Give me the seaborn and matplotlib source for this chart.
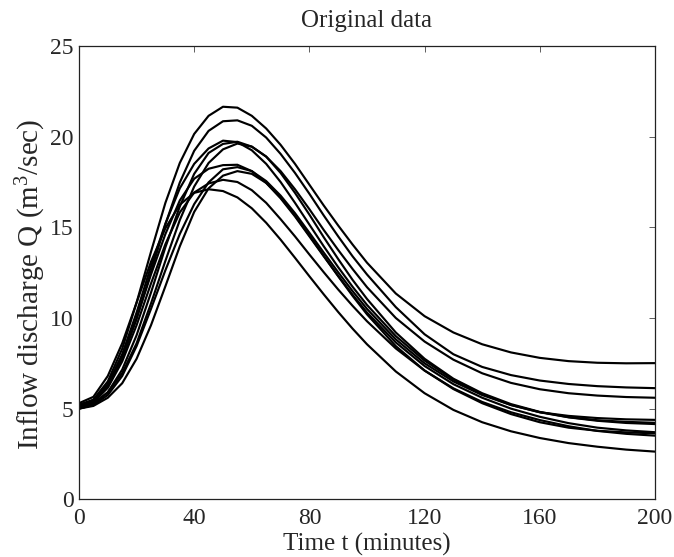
import pandas as pd
import matplotlib
matplotlib.use("Agg")
import matplotlib.pyplot as plt
import seaborn as sns

time_min = [0, 5, 10, 15, 20, 25, 30, 35, 40, 45, 50, 55, 60, 65, 70, 75, 80, 85, 90, 95, 100,
            110, 120, 130, 140, 150, 160, 170, 180, 190, 200]

run_a = [5.2, 5.5, 6.5, 8.3, 10.85, 13.65, 16.35, 18.55, 20.15, 21.15, 21.65,
         21.6, 21.15, 20.45, 19.55, 18.5, 17.35, 16.2, 15.1, 14.05, 13.05,
         11.35, 10.1, 9.2, 8.55, 8.1, 7.8, 7.62, 7.53, 7.5, 7.51]
run_b = [5.1, 5.35, 6.2, 7.75, 9.95, 12.55, 15.17, 17.47, 19.22, 20.32, 20.85,
         20.9, 20.6, 19.95, 19.05, 18.0, 16.85, 15.65, 14.5, 13.4, 12.4,
         10.6, 9.1, 8.0, 7.3, 6.85, 6.55, 6.36, 6.24, 6.17, 6.13]
run_c = [5.0, 5.22, 5.9, 7.15, 9.05, 11.4, 13.9, 16.15, 17.95, 19.1, 19.6,
         19.72, 19.45, 18.9, 18.1, 17.1, 16.0, 14.85, 13.75, 12.7, 11.7,
         10.0, 8.7, 7.7, 6.95, 6.42, 6.07, 5.85, 5.72, 5.64, 5.6]
run_d = [5.2, 5.45, 6.35, 8.0, 10.3, 12.85, 15.2, 17.15, 18.5, 19.35, 19.78,
         19.7, 19.25, 18.5, 17.5, 16.35, 15.15, 13.95, 12.8, 11.72, 10.72,
         9.0, 7.65, 6.6, 5.8, 5.2, 4.8, 4.6, 4.48, 4.41, 4.38]
run_e = [5.1, 5.3, 5.9, 6.95, 8.6, 10.8, 13.15, 15.4, 17.25, 18.55, 19.3,
         19.62, 19.45, 18.9, 18.0, 16.9, 15.7, 14.45, 13.25, 12.1, 11.05,
         9.2, 7.75, 6.65, 5.85, 5.25, 4.82, 4.53, 4.36, 4.27, 4.22]
run_f = [5.2, 5.45, 6.3, 7.85, 10.0, 12.4, 14.63, 16.48, 17.68, 18.23, 18.43,
         18.45, 18.1, 17.45, 16.6, 15.6, 14.5, 13.4, 12.32, 11.28, 10.3,
         8.65, 7.35, 6.35, 5.6, 5.0, 4.55, 4.2, 3.95, 3.8, 3.7]
run_g = [5.0, 5.2, 5.75, 6.8, 8.45, 10.5, 12.63, 14.63, 16.28, 17.48, 18.2,
         18.32, 18.1, 17.55, 16.75, 15.78, 14.7, 13.6, 12.52, 11.48, 10.5,
         8.82, 7.5, 6.5, 5.75, 5.2, 4.8, 4.52, 4.33, 4.21, 4.15]
run_h = [5.0, 5.15, 5.6, 6.4, 7.75, 9.6, 11.75, 13.95, 15.85, 17.15, 17.85,
         18.1, 17.95, 17.45, 16.65, 15.65, 14.55, 13.42, 12.3, 11.22, 10.2,
         8.45, 7.1, 6.08, 5.3, 4.7, 4.25, 3.95, 3.78, 3.69, 3.64]
run_i = [5.1, 5.35, 6.15, 7.6, 9.6, 11.9, 14.07, 15.82, 16.92, 17.42, 17.62,
         17.5, 17.05, 16.35, 15.45, 14.5, 13.5, 12.52, 11.57, 10.67, 9.82,
         8.32, 7.1, 6.12, 5.37, 4.8, 4.37, 4.03, 3.77, 3.61, 3.51]
run_j = [5.3, 5.65, 6.8, 8.6, 10.85, 13.1, 14.95, 16.25, 16.9, 17.1, 17.0,
         16.65, 16.05, 15.25, 14.32, 13.32, 12.3, 11.3, 10.33, 9.41, 8.55,
         7.05, 5.85, 4.93, 4.25, 3.75, 3.38, 3.1, 2.9, 2.74, 2.63]

runs = {"A": run_a, "B": run_b, "C": run_c, "D": run_d, "E": run_e,
        "F": run_f, "G": run_g, "H": run_h, "I": run_i, "J": run_j}

# Long format table for seaborn
df = pd.concat(
    [pd.DataFrame({"t": time_min, "Q": q, "run": name}) for name, q in runs.items()],
    ignore_index=True,
)

# --- Styling (MATLAB-like look) ---
sns.set_style("white")
plt.rcParams["font.family"] = ["Liberation Serif", "DejaVu Serif"]
plt.rcParams["mathtext.fontset"] = "custom"
plt.rcParams["mathtext.rm"] = "Liberation Serif"
plt.rcParams["mathtext.it"] = "Liberation Serif:italic"

fig = plt.figure(figsize=(6.74, 5.57), dpi=100)
ax = fig.add_axes([0.1172, 0.1036, 0.8546, 0.8138])

sns.lineplot(data=df, x="t", y="Q", units="run", estimator=None,
             color="black", linewidth=1.55, ax=ax, legend=False)

ax.set_xlim(0, 200)
ax.set_ylim(0, 25)
ax.set_xticks([0, 40, 80, 120, 160, 200])
ax.set_yticks([0, 5, 10, 15, 20, 25])
ax.tick_params(direction="in", length=4.5, width=0.6, top=True, right=True,
               labelsize=17, color="#444444")
ax.tick_params(axis="x", pad=6)
ax.tick_params(axis="y", pad=4)
for spine in ax.spines.values():
    spine.set_visible(True)
    spine.set_linewidth(0.9)
    spine.set_color("#222222")

ax.set_title("Original data", fontsize=18, pad=14)
ax.set_xlabel("Time t (minutes)", fontsize=18, labelpad=3)
ax.set_ylabel("Inflow discharge Q (m$^{3}$/sec)", fontsize=21)
ax.yaxis.set_label_coords(-0.053, 0.475)

fig.savefig("out.png", dpi=100)
plt.close(fig)
